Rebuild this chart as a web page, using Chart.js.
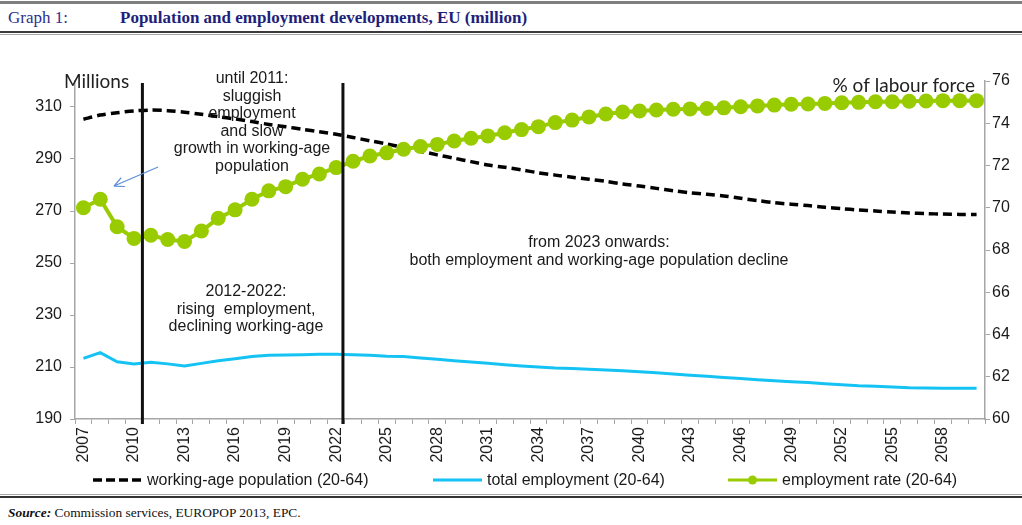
<!DOCTYPE html>
<html>
<head>
<meta charset="utf-8">
<title>Population and employment developments, EU</title>
<script src="https://cdn.jsdelivr.net/npm/chart.js@4.4.1/dist/chart.umd.min.js"></script>
<style>
    body { margin: 0; width: 1022px; height: 525px; background: #fff; position: relative; overflow: hidden; }
    .rule { position: absolute; left: 0; width: 1022px; }
    #hdr { position: absolute; top: 8px; left: 8px; font-family: "Liberation Serif", "Times New Roman", serif; font-size: 17px; color: #2f2f8c; white-space: nowrap; }
    #hdr .gtitle { position: absolute; left: 112px; top: 0; font-weight: bold; color: #1f1f7a; }
    #chartBox { position: absolute; left: 0; top: 36px; width: 1022px; height: 436px; }
    #legend { position: absolute; left: 0; top: 470px; width: 1022px; height: 20px; font-family: "Liberation Sans", Arial, sans-serif; font-size: 16px; color: #1a1a1a; }
    #legend .item { position: absolute; top: 0; height: 20px; line-height: 20px; white-space: nowrap; }
    #legend svg { position: absolute; top: 5px; left: 0; }
    #source { position: absolute; left: 8px; top: 505px; font-family: "Liberation Serif", "Times New Roman", serif; font-size: 13.4px; color: #111; }
</style>
</head>
<body>
<div class="rule" style="top:1px;height:3px;background:#7f7f7f"></div>
<div id="hdr"><span>Graph 1:</span><span class="gtitle">Population and employment developments, EU (million)</span></div>
<div class="rule" style="top:31px;height:2px;background:#3a3a3a"></div>
<div class="rule" style="top:34px;height:1px;background:#a8a8a8"></div>

<div id="chartBox"><canvas id="popChart" width="1022" height="436"></canvas></div>
<div id="legend"></div>

<div class="rule" style="top:494px;height:1px;background:#a8a8a8"></div>
<div class="rule" style="top:496px;height:2px;background:#333"></div>
<div id="source"><b><i>Source:</i></b> Commission services, EUROPOP 2013, EPC.</div>

<script>
// years on the category axis
const years = ['2007', '2008', '2009', '2010', '2011', '2012', '2013', '2014', '2015', '2016',
    '2017', '2018', '2019', '2020', '2021', '2022', '2023', '2024', '2025', '2026',
    '2027', '2028', '2029', '2030', '2031', '2032', '2033', '2034', '2035', '2036',
    '2037', '2038', '2039', '2040', '2041', '2042', '2043', '2044', '2045', '2046',
    '2047', '2048', '2049', '2050', '2051', '2052', '2053', '2054', '2055', '2056',
    '2057', '2058', '2059', '2060'];

// millions, left axis
const workingAgePop = [305.3, 306.9, 307.8, 308.5, 308.8, 308.6, 308.0, 307.2, 306.3, 305.4,
    304.4, 303.3, 302.4, 301.4, 300.5, 299.5, 298.3, 297.0, 295.8, 294.4,
    293.0, 291.6, 290.3, 289.0, 287.7, 286.8, 285.8, 284.7, 283.8, 283.0,
    282.2, 281.4, 280.4, 279.6, 278.7, 277.8, 277.0, 276.4, 275.8, 274.9,
    274.0, 273.2, 272.6, 272.1, 271.4, 270.9, 270.4, 270.0, 269.6, 269.2,
    269.0, 268.8, 268.7, 268.7];
const totalEmployment = [213.3, 215.5, 212.0, 211.2, 211.8, 211.2, 210.4, 211.4, 212.4, 213.2,
    214.0, 214.5, 214.6, 214.7, 214.9, 214.9, 214.7, 214.5, 214.1, 214.0,
    213.5, 213.0, 212.4, 211.9, 211.4, 210.9, 210.4, 210.0, 209.6, 209.4,
    209.1, 208.8, 208.6, 208.2, 207.8, 207.3, 206.8, 206.4, 206.0, 205.6,
    205.1, 204.7, 204.3, 204.0, 203.6, 203.2, 202.8, 202.6, 202.3, 202.0,
    201.9, 201.8, 201.8, 201.8];

// % of labour force, right axis
const employmentRate = [70.0, 70.4, 69.1, 68.55, 68.7, 68.5, 68.4, 68.9, 69.5, 69.9,
    70.4, 70.8, 71.0, 71.35, 71.6, 71.9, 72.2, 72.45, 72.6, 72.77,
    72.9, 73.0, 73.16, 73.29, 73.4, 73.55, 73.7, 73.84, 74.03, 74.15,
    74.3, 74.44, 74.53, 74.58, 74.63, 74.66, 74.68, 74.7, 74.73, 74.78,
    74.82, 74.86, 74.9, 74.91, 74.94, 74.97, 74.99, 75.02, 75.02, 75.04,
    75.05, 75.07, 75.07, 75.07];

const leftTicks = [190, 210, 230, 250, 270, 290, 310];
const rightTicks = [60, 62, 64, 66, 68, 70, 72, 74, 76];

// period boundaries (category index) and their captions
const dividers = [3.5, 15.4];
const periodNotes = [
    { lines: ['until 2011:', 'sluggish', 'employment', 'and slow', 'growth in working-age', 'population'], cx: 252, top: 79 },
    { lines: ['2012-2022:', 'rising  employment,', 'declining working-age'], cx: 246, top: 292 },
    { lines: ['from 2023 onwards:', 'both employment and working-age population decline'], cx: 599, top: 243 }
];

const cBlack = '#000000';
const cBlue = '#14c3f4';
const cGreen = '#99cc00';
const axisGrey = '#a6a6a6';
const textFont = '"Liberation Sans", Arial, sans-serif';

// dividers, captions, arrow and axis unit labels
const notesPlugin = {
    id: 'notes',
    afterDatasetsDraw(chart) {
        const { ctx, chartArea, scales } = chart;
        const x = scales.x, y = scales.y;
        const offY = chartArea.top - 81; // captions are laid out in page rows
        ctx.save();

        ctx.strokeStyle = '#111';
        ctx.lineWidth = 3;
        dividers.forEach(v => {
            const px = x.getPixelForValue(v);
            ctx.beginPath();
            ctx.moveTo(px, chartArea.top + 2);
            ctx.lineTo(px, chartArea.bottom + 5);
            ctx.stroke();
        });

        ctx.fillStyle = '#1a1a1a';
        ctx.font = '16px ' + textFont;
        ctx.textAlign = 'center';
        ctx.textBaseline = 'middle';
        periodNotes.forEach(n => {
            n.lines.forEach((t, i) => {
                ctx.fillText(t, n.cx, n.top + offY + i * 17.5);
            });
        });

        // arrow pointing back at the 2008 peak
        const x0 = x.getPixelForValue(4.43), y0 = y.getPixelForValue(286.9);
        const x1 = x.getPixelForValue(1.81), y1 = y.getPixelForValue(279.6);
        ctx.strokeStyle = '#5b8fd6';
        ctx.lineWidth = 1.2;
        ctx.beginPath();
        ctx.moveTo(x0, y0);
        ctx.lineTo(x1, y1);
        const ang = Math.atan2(y1 - y0, x1 - x0);
        [0.45, -0.45].forEach(d => {
            ctx.moveTo(x1, y1);
            ctx.lineTo(x1 - 11 * Math.cos(ang + d), y1 - 11 * Math.sin(ang + d));
        });
        ctx.stroke();

        ctx.fillStyle = '#222';
        ctx.font = '19px Lato, "Open Sans", sans-serif';
        ctx.textAlign = 'left';
        ctx.fillText('Millions', 64, 82 + offY);
        ctx.textAlign = 'right';
        ctx.fillText('% of labour force', 975, 86 + offY);
        ctx.restore();
    }
};

const tickFont = { family: textFont, size: 16 };

new Chart(document.getElementById('popChart').getContext('2d'), {
    type: 'line',
    data: {
        labels: years,
        datasets: [{
            label: 'employment rate (20-64)',
            data: employmentRate,
            yAxisID: 'y1',
            borderColor: cGreen,
            backgroundColor: cGreen,
            borderWidth: 4,
            pointRadius: 7.5,
            pointBorderWidth: 0,
            pointBackgroundColor: cGreen,
            tension: 0,
            order: 0
        }, {
            label: 'working-age population (20-64)',
            data: workingAgePop,
            yAxisID: 'y',
            borderColor: cBlack,
            borderWidth: 3.5,
            borderDash: [9, 5],
            pointRadius: 0,
            tension: 0.3,
            order: 1
        }, {
            label: 'total employment (20-64)',
            data: totalEmployment,
            yAxisID: 'y',
            borderColor: cBlue,
            borderWidth: 3,
            pointRadius: 0,
            tension: 0,
            order: 2
        }]
    },
    options: {
        responsive: false,
        animation: false,
        devicePixelRatio: 1,
        layout: { padding: { top: 45, left: 0, right: 0, bottom: 0 } },
        plugins: {
            legend: { display: false },
            tooltip: { enabled: false }
        },
        scales: {
            x: {
                offset: true,
                grid: { offset: true, drawOnChartArea: false, drawTicks: true, tickLength: 5, color: axisGrey },
                border: { color: axisGrey, width: 1.5 },
                ticks: {
                    autoSkip: false,
                    minRotation: 90,
                    maxRotation: 90,
                    padding: 3,
                    color: '#1a1a1a',
                    font: tickFont,
                    callback: (v, i) => (i % 3 === 0 ? years[i] : '')
                },
                afterFit: s => { s.height = 53; }
            },
            y: {
                position: 'left',
                min: 190,
                max: 320,
                grid: { drawOnChartArea: false, drawTicks: true, tickLength: 5, color: axisGrey },
                border: { color: axisGrey, width: 1.5 },
                ticks: { padding: 8, color: '#1a1a1a', font: tickFont },
                afterBuildTicks: s => { s.ticks = leftTicks.map(v => ({ value: v })); },
                afterFit: s => { s.width = 75; }
            },
            y1: {
                position: 'right',
                min: 60,
                max: 76,
                grid: { drawOnChartArea: false, drawTicks: true, tickLength: 5, color: axisGrey },
                border: { color: axisGrey, width: 1.5 },
                ticks: { padding: 2, color: '#1a1a1a', font: tickFont },
                afterBuildTicks: s => { s.ticks = rightTicks.map(v => ({ value: v })); },
                afterFit: s => { s.width = 37; }
            }
        }
    },
    plugins: [notesPlugin]
});

// Custom legend row under the chart
const legendItems = [
    { label: 'working-age population (20-64)', left: 93, svg: '<line x1="0" y1="5" x2="49" y2="5" stroke="' + cBlack + '" stroke-width="3.5" stroke-dasharray="9 4"/>' },
    { label: 'total employment (20-64)', left: 433, svg: '<line x1="0" y1="5" x2="49" y2="5" stroke="' + cBlue + '" stroke-width="3"/>' },
    { label: 'employment rate (20-64)', left: 728, svg: '<line x1="0" y1="5" x2="49" y2="5" stroke="' + cGreen + '" stroke-width="3"/><circle cx="24.5" cy="5" r="4.5" fill="' + cGreen + '"/>' }
];
const legendBox = document.getElementById('legend');
legendItems.forEach(it => {
    legendBox.innerHTML += `
        <div class="item" style="left:${it.left}px">
            <svg width="49" height="10">${it.svg}</svg>
            <span style="margin-left:54px">${it.label}</span>
        </div>`;
});
</script>
</body>
</html>
